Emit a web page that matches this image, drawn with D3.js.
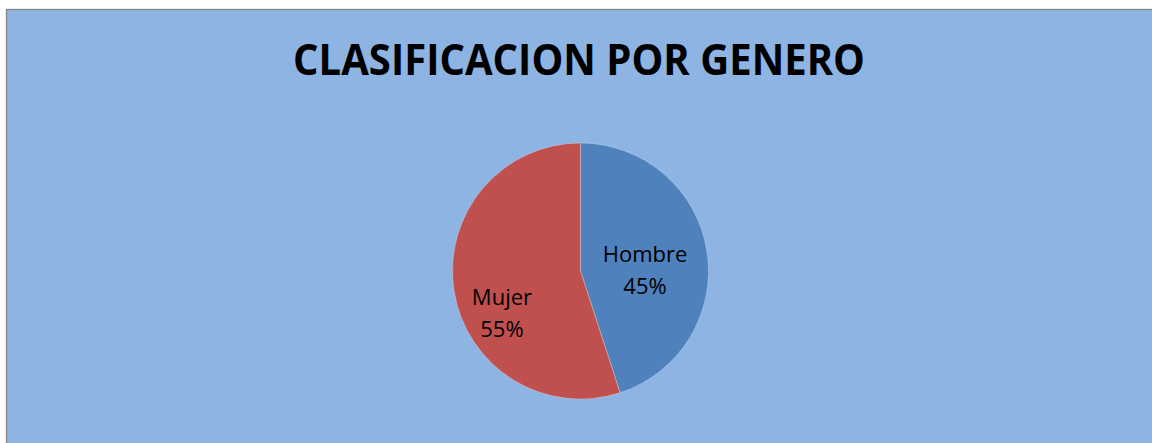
<!DOCTYPE html>
<html>
<head>
<meta charset="utf-8">
<script src="https://cdn.jsdelivr.net/npm/d3@7"></script>
<style>
  html, body { margin: 0; padding: 0; background: #fff; }
  svg { display: block; }
</style>
</head>
<body>
<svg id="chart"></svg>
<script>
// chart data
let categories = ['Hombre', 'Mujer']
let percents = [45, 55]
let sliceColors = ['#4F81BD', '#C0504D']
let title = 'CLASIFICACION POR GENERO'

let width = 1152
let height = 443
let cx = 580.5
let cy = 271
let radius = 128

let svg = d3.select('#chart').attr('width', width).attr('height', height)

// chart area (runs off the right and bottom edge)
svg.append('rect')
    .attr('x', 6.5).attr('y', 9.5)
    .attr('width', 1170).attr('height', 460)
    .attr('fill', '#8DB4E2')
    .attr('stroke', '#868686')
    .attr('stroke-width', 1.3)

svg.append('text')
    .attr('x', 579).attr('y', 75)
    .attr('text-anchor', 'middle')
    .attr('font-family', 'Open Sans, sans-serif')
    .attr('font-weight', 'bold')
    .attr('font-size', 43)
    .attr('textLength', 572)
    .attr('lengthAdjust', 'spacingAndGlyphs')
    .attr('fill', '#000')
    .text(title)

let pie = d3.pie().sort(null).value(d => d)
let arcs = pie(percents)
let arc = d3.arc().innerRadius(0).outerRadius(radius)
let labelArc = d3.arc().innerRadius(radius * 0.55).outerRadius(radius * 0.55)

let g = svg.append('g').attr('transform', 'translate(' + cx + ',' + cy + ')')

g.selectAll('path')
    .data(arcs)
    .enter()
    .append('path')
    .attr('d', arc)
    .attr('fill', (d, i) => sliceColors[i])
    .attr('stroke', 'rgba(255,255,255,0.35)')
    .attr('stroke-width', 0.8)

// excel's best-fit label placement, nudged from the centroid
let nudge = {Hombre: [-5, 10], Mujer: [-9, 31]}

let labels = g.selectAll('.lbl')
    .data(arcs)
    .enter()
    .append('text')
    .attr('class', 'lbl')
    .attr('text-anchor', 'middle')
    .attr('font-family', 'Open Sans, sans-serif')
    .attr('font-size', 22)
    .attr('fill', '#000')
    .attr('transform', function(d, i) {
        let c = labelArc.centroid(d)
        let n = nudge[categories[i]]
        return 'translate(' + (c[0] + n[0]) + ',' + (c[1] + n[1]) + ')'
    })

labels.append('tspan')
    .attr('x', 0).attr('y', -8)
    .text((d, i) => categories[i])
labels.append('tspan')
    .attr('x', 0).attr('y', 24)
    .text((d, i) => percents[i] + '%')
</script>
</body>
</html>
